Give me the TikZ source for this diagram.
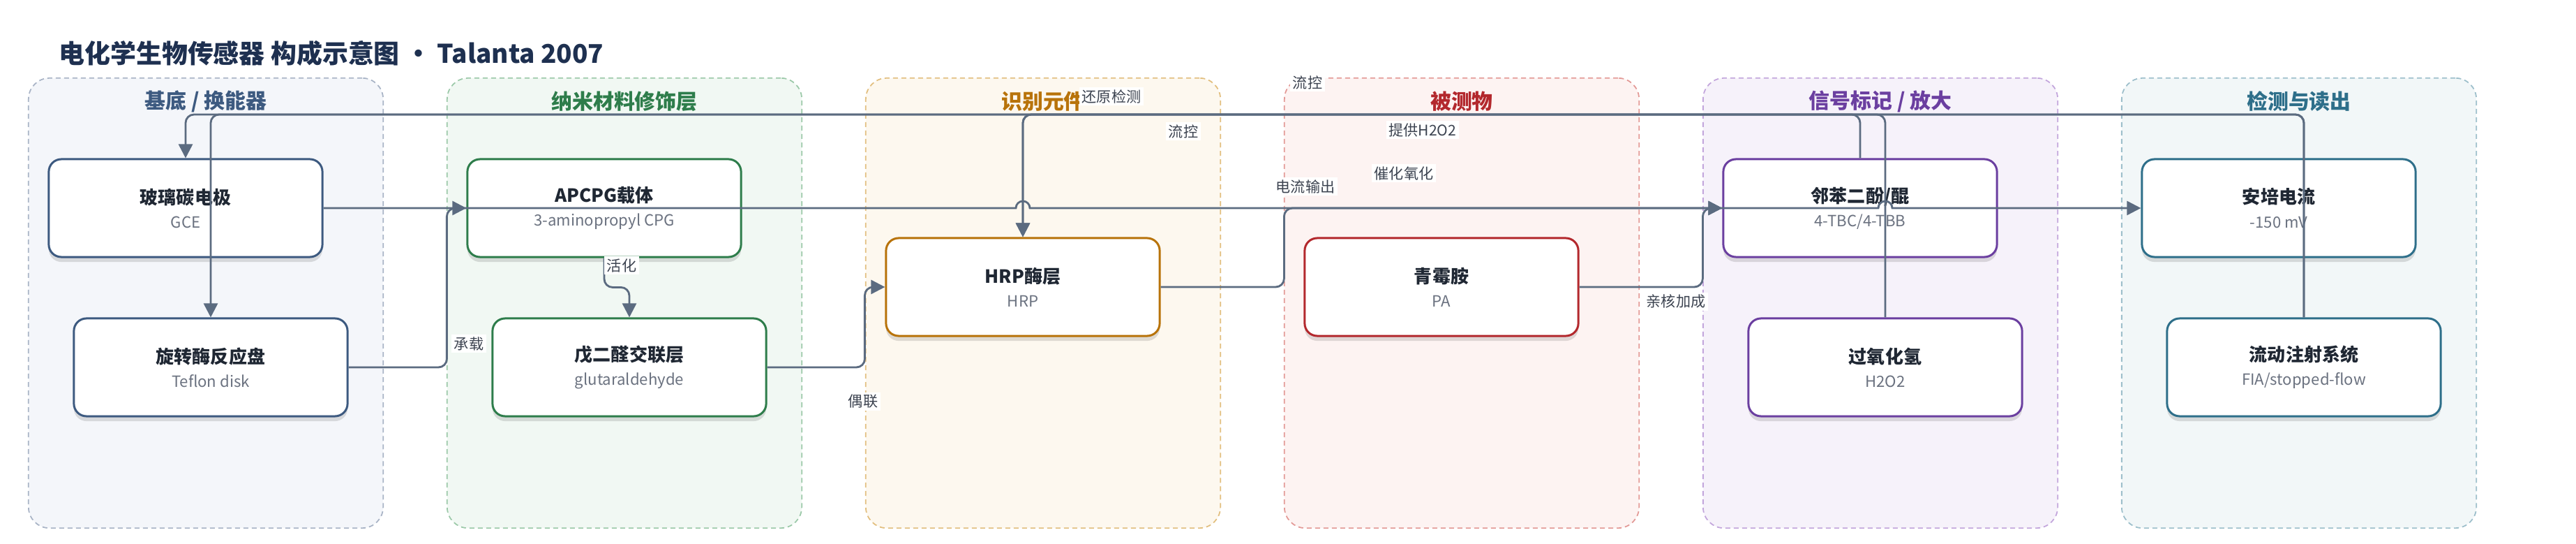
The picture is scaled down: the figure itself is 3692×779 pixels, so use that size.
\documentclass[tikz,border=0pt]{standalone}
\usepackage{fontspec}
\setmainfont{Noto Sans CJK SC}
\usepackage{tikz}
\usetikzlibrary{calc}
\usetikzlibrary{shadows}
\usetikzlibrary{arrows.meta}

% colours
\definecolor{edgegray}{HTML}{5B6B80}
\definecolor{labelgray}{HTML}{3C4350}
\definecolor{titlenavy}{HTML}{1E3050}
\definecolor{namedark}{HTML}{1F2733}
\definecolor{subgray}{HTML}{6B7280}
\definecolor{baseC}{HTML}{3D5A80}\definecolor{baseL}{HTML}{A9B4C6}\definecolor{baseF}{HTML}{F4F6FA}
\definecolor{nanoC}{HTML}{2E7D4B}\definecolor{nanoL}{HTML}{9CC9A9}\definecolor{nanoF}{HTML}{F1F8F3}
\definecolor{recoC}{HTML}{B8730A}\definecolor{recoL}{HTML}{E2BF7F}\definecolor{recoF}{HTML}{FDF8EF}
\definecolor{anaC}{HTML}{B3282D}\definecolor{anaL}{HTML}{E39A97}\definecolor{anaF}{HTML}{FDF3F2}
\definecolor{sigC}{HTML}{6B3FA0}\definecolor{sigL}{HTML}{C3A6DC}\definecolor{sigF}{HTML}{F6F2FA}
\definecolor{readC}{HTML}{2E6F8A}\definecolor{readL}{HTML}{9DBFCB}\definecolor{readF}{HTML}{F2F7F8}

\newcommand{\boxtext}[2]{{\fontsize{7.4}{9.7}\selectfont\bfseries\color{namedark}#1}\\{\color{subgray}#2}}

\begin{document}
\begin{tikzpicture}[
        x=0.01cm, y=-0.01cm,
        % Define styles for lanes, boxes and links
        lane/.style={rectangle, rounded corners=0.3cm, line width=0.5pt,
            dash pattern=on 0.07cm off 0.05cm, minimum width=5.08cm, minimum height=6.44cm},
        lanetitle/.style={font=\fontsize{8.5}{10}\selectfont\bfseries},
        box/.style={rectangle, rounded corners=0.18cm, draw=#1, line width=0.85pt, fill=white,
            minimum width=3.92cm, minimum height=1.4cm, align=center,
            font=\fontsize{6.3}{9.7}\selectfont,
            drop shadow={shadow xshift=0pt, shadow yshift=-2pt, opacity=0.12, fill=black}},
        flow/.style={draw=edgegray, line width=0.8pt, rounded corners=0.12cm,
            -{Triangle[length=5.7pt, width=5.7pt]}},
        lbl/.style={fill=white, inner sep=1pt, text=labelgray, font=\fontsize{6}{7}\selectfont}
    ]
    \useasboundingbox (0,0) rectangle (3692,779);

    % title
    \node[anchor=west, text=titlenavy, font=\fontsize{10.5}{12}\selectfont\bfseries] (title) at (72,76)
        {电化学生物传感器 构成示意图 · Talanta 2007};

    % lanes
    \node[lane, draw=baseL, fill=baseF] (lane1) at (295,434) {};
    \node[lane, draw=nanoL, fill=nanoF] (lane2) at (895,434) {};
    \node[lane, draw=recoL, fill=recoF] (lane3) at (1495,434) {};
    \node[lane, draw=anaL, fill=anaF] (lane4) at (2095,434) {};
    \node[lane, draw=sigL, fill=sigF] (lane5) at (2695,434) {};
    \node[lane, draw=readL, fill=readF] (lane6) at (3295,434) {};

    \node[lanetitle, text=baseC] (t1) at (295,145) {基底 / 换能器};
    \node[lanetitle, text=nanoC] (t2) at (895,145) {纳米材料修饰层};
    \node[lanetitle, text=recoC] (t3) at (1495,145) {识别元件};
    \node[lanetitle, text=anaC] (t4) at (2095,145) {被测物};
    \node[lanetitle, text=sigC] (t5) at (2695,145) {信号标记 / 放大};
    \node[lanetitle, text=readC] (t6) at (3295,145) {检测与读出};

    % boxes
    \node[box=baseC] (gce) at (266,298) {\boxtext{玻璃碳电极}{GCE}};
    \node[box=baseC] (teflon) at (302,526) {\boxtext{旋转酶反应盘}{Teflon disk}};
    \node[box=nanoC] (apcpg) at (866,298) {\boxtext{APCPG载体}{3-aminopropyl CPG}};
    \node[box=nanoC] (glut) at (902,526) {\boxtext{戊二醛交联层}{glutaraldehyde}};
    \node[box=recoC] (hrp) at (1466,411) {\boxtext{HRP酶层}{HRP}};
    \node[box=anaC] (pa) at (2066,411) {\boxtext{青霉胺}{PA}};
    \node[box=sigC] (tbc) at (2666,298) {\boxtext{邻苯二酚/醌}{4-TBC/4-TBB}};
    \node[box=sigC] (h2o2) at (2702,526) {\boxtext{过氧化氢}{H2O2}};
    \node[box=readC] (amp) at (3266,298) {\boxtext{安培电流}{-150 mV}};
    \node[box=readC] (fia) at (3302,526) {\boxtext{流动注射系统}{FIA/stopped-flow}};

    % top rail for the long links
    \coordinate (rail) at (0,164);

    % links
    \draw[flow, sharp corners] (gce.east) -- ($(hrp.north |- gce.east)+(-10,0)$)
        arc[start angle=180, end angle=0, radius=0.1cm] -- ($(h2o2.north |- gce.east)+(-10,0)$)
        arc[start angle=180, end angle=0, radius=0.1cm] -- (amp.west);
    \draw[flow] (teflon.east) -| ($(apcpg.west)+(-28,0)$) -- (apcpg.west);
    \draw[flow] (apcpg.south) |- ($(glut.north)+(0,-43)$) -- (glut.north);
    \draw[flow] (glut.east) -| ($(hrp.west)+(-29,0)$) -- (hrp.west);
    \draw[flow] (hrp.east) -| ($(tbc.west)+(-628,0)$) -- (tbc.west);
    \draw[flow] (pa.east) -| ($(tbc.west)+(-28,0)$) -- (tbc.west);
    \draw[flow] (tbc.north) |- (gce.north |- rail) -- (gce.north);
    \draw[flow] (h2o2.north) |- (hrp.north |- rail) -- (hrp.north);
    \draw[flow] (fia.north) |- (teflon.north |- rail) -- (teflon.north);
    \draw[flow] (fia.north) |- (hrp.north |- rail) -- (hrp.north);

    % link labels
    \node[lbl] (l-carry) at (672,492) {承载};
    \node[lbl] (l-act) at (891,380) {活化};
    \node[lbl] (l-couple) at (1237,575) {偶联};
    \node[lbl] (l-reduce) at (1593,138) {还原检测};
    \node[lbl] (l-flow1) at (1696,188) {流控};
    \node[lbl] (l-flow2) at (1874,118) {流控};
    \node[lbl] (l-h2o2) at (2039,186) {提供H2O2};
    \node[lbl] (l-oxid) at (2012,248) {催化氧化};
    \node[lbl] (l-current) at (1871,267) {电流输出};
    \node[lbl] (l-add) at (2402,432) {亲核加成};
\end{tikzpicture}
\end{document}
